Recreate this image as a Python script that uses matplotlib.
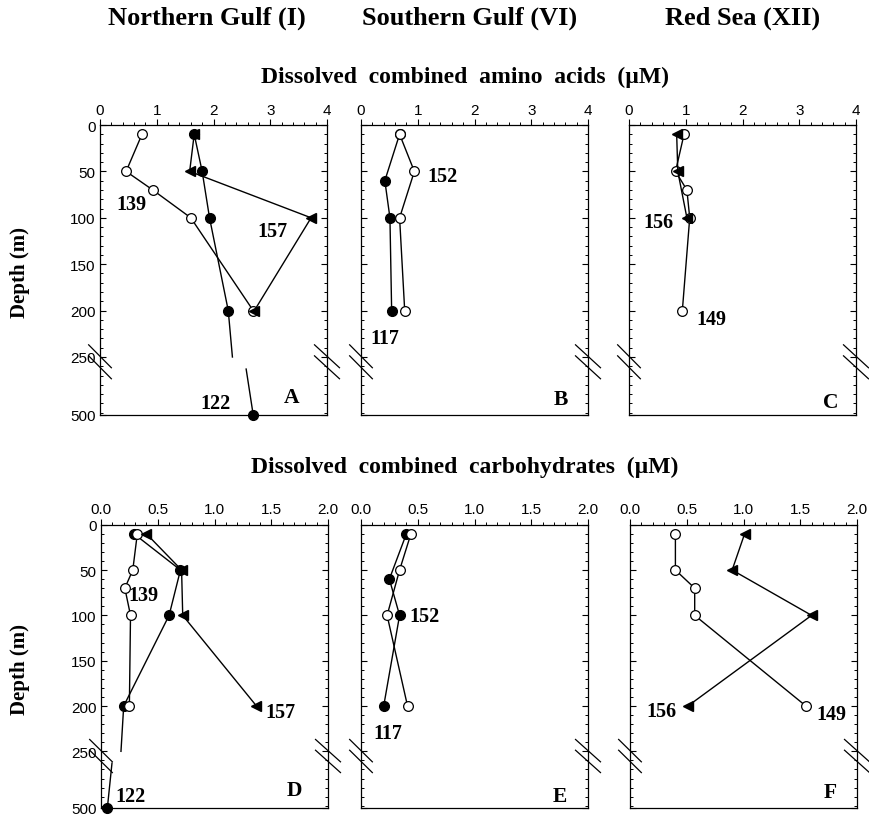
import numpy as np
import matplotlib
matplotlib.use("Agg")
import matplotlib.pyplot as plt
from matplotlib.ticker import MultipleLocator, FixedLocator

SERIF = "Liberation Serif"
SANS = "Liberation Sans"

# ---- data (depth in m, concentration in uM) ----
# top row: dissolved combined amino acids
a_139_depth = [10, 50, 70, 100, 200]
a_139_val = [0.74, 0.46, 0.93, 1.60, 2.70]
a_157_depth = [10, 50, 100, 200]
a_157_val = [1.66, 1.58, 3.72, 2.72]
a_122_depth = [10, 50, 100, 200, 500]
a_122_val = [1.66, 1.80, 1.93, 2.26, 2.70]

b_152_depth = [10, 50, 100, 200]
b_152_val = [0.68, 0.94, 0.68, 0.77]
b_117_depth = [10, 60, 100, 200]
b_117_val = [0.68, 0.42, 0.51, 0.54]

c_149_depth = [10, 50, 70, 100, 200]
c_149_val = [0.97, 0.82, 1.02, 1.07, 0.94]
c_156_depth = [10, 50, 100]
c_156_val = [0.84, 0.86, 1.02]

# bottom row: dissolved combined carbohydrates
d_139_depth = [10, 50, 70, 100, 200]
d_139_val = [0.32, 0.28, 0.21, 0.26, 0.25]
d_157_depth = [10, 50, 100, 200]
d_157_val = [0.40, 0.71, 0.72, 1.37]
d_122_depth = [10, 50, 100, 200, 500]
d_122_val = [0.29, 0.70, 0.60, 0.20, 0.056]

e_152_depth = [10, 50, 100, 200]
e_152_val = [0.44, 0.34, 0.23, 0.41]
e_117_depth = [10, 60, 100, 200]
e_117_val = [0.40, 0.25, 0.34, 0.20]

f_149_depth = [10, 50, 70, 100, 200]
f_149_val = [0.40, 0.40, 0.57, 0.57, 1.55]
f_156_depth = [10, 50, 100, 200]
f_156_val = [1.01, 0.90, 1.60, 0.51]

panel_letters = ["A", "B", "C", "D", "E", "F"]
region_titles = ["Northern Gulf (I)", "Southern Gulf (VI)", "Red Sea (XII)"]
row_titles = ["Dissolved  combined  amino  acids  (\u00b5M)",
              "Dissolved  combined  carbohydrates  (\u00b5M)"]
depth_ticks = [0, 50, 100, 150, 200, 250, 500]

# marker styles: closed circle, open circle, triangle
closed = dict(marker="o", mfc="black", mec="black", ms=7, zorder=3)
opened = dict(marker="o", mfc="white", mec="black", ms=7, mew=0.9, zorder=4)
tri = dict(marker="<", mfc="black", mec="black", ms=7, zorder=5)


def depth_y(d):
    # broken depth axis: 0-250 m linear, 500 m squeezed in below the break
    d = np.asarray(d, float)
    return np.where(d <= 250, d, 263 + (d - 415) * 49.5 / 85)


def profile(ax, depth, val, style):
    depth = np.asarray(depth, float)
    val = np.asarray(val, float)
    up = depth <= 250
    ax.plot(val[up], depth[up], color="black", lw=1.0, clip_on=False, **style)
    if (~up).any():
        # line across the break, interpolated in true depth
        d0, d1 = depth[up][-1], depth[~up][0]
        x0, x1 = val[up][-1], val[~up][0]
        top = np.array([d0, 250])
        bot = np.array([415, d1])
        ax.plot(np.interp(top, [d0, d1], [x0, x1]), depth_y(top),
                color="black", lw=1.0, zorder=2)
        ax.plot(np.interp(bot, [d0, d1], [x0, x1]), depth_y(bot),
                color="black", lw=1.0, zorder=2)
        ax.plot(val[~up], depth_y(depth[~up]), ls="none", clip_on=False, **style)


def setup(ax, xmax, xmajor, xminor, fmt, show_y):
    ax.set_xlim(0, xmax)
    ax.set_ylim(312.5, 0)
    ax.xaxis.tick_top()
    ax.xaxis.set_major_locator(MultipleLocator(xmajor))
    ax.xaxis.set_minor_locator(MultipleLocator(xminor))
    ax.set_xticklabels([fmt.format(v) for v in ax.get_xticks()])
    ax.yaxis.set_major_locator(FixedLocator(depth_y(depth_ticks)))
    ax.yaxis.set_minor_locator(FixedLocator(np.arange(0, 313, 10)))
    ax.tick_params(axis="x", which="major", direction="out", length=4, width=0.8,
                   labelsize=11, pad=2)
    ax.tick_params(axis="x", which="minor", direction="out", length=2, width=0.7)
    ax.tick_params(axis="y", which="both", direction="in", left=True, right=True,
                   labelsize=11, pad=3)
    ax.tick_params(axis="y", which="major", length=4, width=0.8)
    ax.tick_params(axis="y", which="minor", length=2.5, width=0.7)
    for lab in ax.get_xticklabels() + ax.get_yticklabels():
        lab.set_family(SANS)
    if show_y:
        ax.set_yticklabels([str(t) for t in depth_ticks])
    else:
        ax.set_yticklabels([])
    for sp in ax.spines.values():
        sp.set_linewidth(0.9)
    # break marks on both spines
    for xc, hw in [(0.0, 0.05), (1.0, 0.055)]:
        for off in [0.0, 0.038]:
            ax.plot([xc - hw, xc + hw], [0.242 - off, 0.163 - off], color="black",
                    lw=0.9, transform=ax.transAxes, clip_on=False, zorder=6)


def label(ax, x, y, s, size=14.5):
    ax.text(x, y, s, ha="center", va="center", fontsize=size,
            fontweight="bold", family=SERIF)


fig = plt.figure(figsize=(8.69, 8.20), dpi=100)
W, H = 869, 820
lefts_top = [100, 361, 629]
lefts_bot = [101, 361, 630]
axes = []
for l in lefts_top:
    axes.append(fig.add_axes([l / W, 1 - 416 / H, 227 / W, 290 / H]))
for l in lefts_bot:
    axes.append(fig.add_axes([l / W, 1 - 809 / H, 227 / W, 283.3 / H]))
axA, axB, axC, axD, axE, axF = axes

for i, ax in enumerate(axes[:3]):
    setup(ax, 4, 1, 0.2, "{:.0f}", i == 0)
for i, ax in enumerate(axes[3:]):
    setup(ax, 2, 0.5, 0.1, "{:.1f}", i == 0)

# panel A
profile(axA, a_122_depth, a_122_val, closed)
profile(axA, a_139_depth, a_139_val, opened)
profile(axA, a_157_depth, a_157_val, tri)
label(axA, 0.56, 85, "139")
label(axA, 3.04, 114, "157")
label(axA, 2.04, 300, "122")
label(axA, 3.38, 293, "A", 15.5)

# panel B
profile(axB, b_117_depth, b_117_val, closed)
profile(axB, b_152_depth, b_152_val, opened)
label(axB, 1.44, 55, "152")
label(axB, 0.42, 229, "117")
label(axB, 3.52, 295, "B", 15.5)

# panel C
profile(axC, c_149_depth, c_149_val, opened)
profile(axC, c_156_depth, c_156_val, tri)
label(axC, 0.51, 105, "156")
label(axC, 1.45, 209, "149")
label(axC, 3.55, 298, "C", 15.5)

# panel D
profile(axD, d_122_depth, d_122_val, closed)
profile(axD, d_139_depth, d_139_val, opened)
profile(axD, d_157_depth, d_157_val, tri)
label(axD, 0.37, 78, "139")
label(axD, 1.58, 207, "157")
label(axD, 0.26, 299, "122")
label(axD, 1.70, 293, "D", 15.5)

# panel E
profile(axE, e_117_depth, e_117_val, closed)
profile(axE, e_152_depth, e_152_val, opened)
label(axE, 0.56, 101, "152")
label(axE, 0.24, 230, "117")
label(axE, 1.75, 299, "E", 15.5)

# panel F
profile(axF, f_149_depth, f_149_val, opened)
profile(axF, f_156_depth, f_156_val, tri)
label(axF, 0.28, 206, "156")
label(axF, 1.77, 209, "149")
label(axF, 1.76, 295, "F", 15.5)

# titles and axis captions
for x, t in zip([206.7, 470, 743], region_titles):
    fig.text(x / W, 1 - 18 / H, t, ha="center", va="center", fontsize=19,
             fontweight="bold", family=SERIF)
fig.text(465 / W, 1 - 77 / H, row_titles[0], ha="center", va="center",
         fontsize=17, fontweight="bold", family=SERIF)
fig.text(465 / W, 1 - 467 / H, row_titles[1], ha="center", va="center",
         fontsize=17, fontweight="bold", family=SERIF)
for y in [272, 670]:
    fig.text(20 / W, 1 - y / H, "Depth (m)", ha="center", va="center",
             rotation=90, fontsize=15, fontweight="bold", family=SERIF)

fig.savefig("out.png", dpi=100)
